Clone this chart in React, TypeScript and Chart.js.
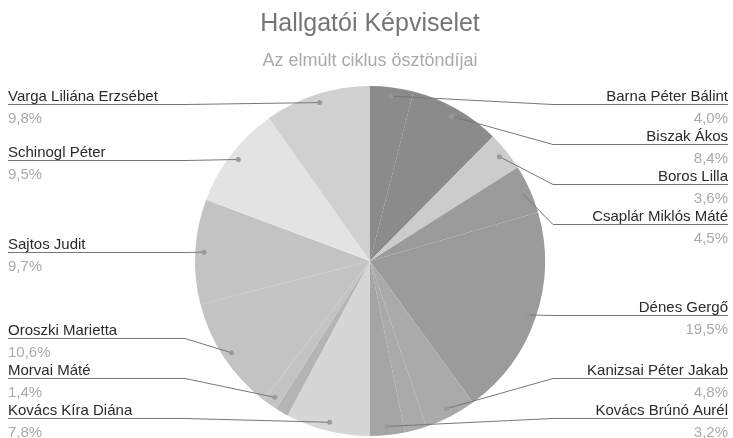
import React, { useEffect, useRef } from 'react';
import { Chart, registerables } from 'chart.js';

Chart.register(...registerables);

const TITLE = 'Hallgatói Képviselet';
const SUBTITLE = 'Az elmúlt ciklus ösztöndíjai';

// Slices in clockwise order from 12 o'clock; empty names are slices without a visible label
const names = [
  'Barna Péter Bálint',
  'Biszak Ákos',
  'Boros Lilla',
  'Csaplár Miklós Máté',
  'Dénes Gergő',
  'Kanizsai Péter Jakab',
  '',
  'Kovács Brúnó Aurél',
  'Kovács Kíra Diána',
  '',
  'Morvai Máté',
  'Oroszki Marietta',
  'Sajtos Judit',
  'Schinogl Péter',
  'Varga Liliána Erzsébet',
];
const values = [4.0, 8.4, 3.6, 4.5, 19.5, 4.8, 2.0, 3.2, 7.8, 1.2, 1.4, 10.6, 9.7, 9.5, 9.8];
const colors = [
  '#8b8b8b', '#8b8b8b', '#cccccc', '#9b9b9b', '#9b9b9b', '#aaaaaa', '#aaaaaa', '#a5a5a5',
  '#d6d6d6', '#b4b4b4', '#c3c3c3', '#c3c3c3', '#c3c3c3', '#e3e3e3', '#d0d0d0',
];

const FONT = "'Liberation Sans', Arial, sans-serif";

const outLabels = {
  id: 'outLabels',
  afterDatasetsDraw(chart: any) {
    const ctx = chart.ctx;
    const meta = chart.getDatasetMeta(0);
    const data = chart.data.datasets[0].data as number[];
    const total = data.reduce((a, b) => a + b, 0);
    const area = chart.chartArea;
    const minY = area.top + 18;
    const maxY = area.bottom - 18;
    const gap = 40;
    const items: any[] = [];
    meta.data.forEach((arc: any, i: number) => {
      const label = chart.data.labels[i] as string;
      if (!label) return;
      const p = arc.getProps(['x', 'y', 'startAngle', 'endAngle', 'outerRadius'], true);
      const mid = (p.startAngle + p.endAngle) / 2;
      const px = p.x + Math.cos(mid) * p.outerRadius * 0.95;
      const py = p.y + Math.sin(mid) * p.outerRadius * 0.95;
      const pct = ((data[i] / total) * 100).toFixed(1).replace('.', ',') + '%';
      items.push({ label, pct, px, py, right: Math.cos(mid) >= 0, cx: p.x, r: p.outerRadius });
    });
    [true, false].forEach((side) => {
      const list = items.filter((it) => it.right === side).sort((a, b) => a.py - b.py);
      list.forEach((it, k) => {
        let y = Math.min(Math.max(it.py, minY), maxY);
        if (k > 0) y = Math.max(y, list[k - 1].ly + gap);
        it.ly = y;
      });
      for (let k = list.length - 1; k >= 0; k--) {
        let y = list[k].ly;
        if (k === list.length - 1) y = Math.min(y, maxY);
        else y = Math.min(y, list[k + 1].ly - gap);
        list[k].ly = y;
      }
    });
    ctx.save();
    items.forEach((it) => {
      const ly = Math.round(it.ly) + 0.5;
      const elbowX = it.right ? it.cx + it.r + 8 : it.cx - it.r - 10;
      const edgeX = it.right ? chart.width - 5 : 8;
      ctx.strokeStyle = '#777777';
      ctx.lineWidth = 1;
      ctx.beginPath();
      ctx.moveTo(it.px, it.py);
      ctx.lineTo(elbowX, ly);
      ctx.lineTo(edgeX, ly);
      ctx.stroke();
      ctx.fillStyle = '#999999';
      ctx.beginPath();
      ctx.arc(it.px, it.py, 2.5, 0, Math.PI * 2);
      ctx.fill();
      ctx.textAlign = it.right ? 'right' : 'left';
      ctx.textBaseline = 'alphabetic';
      ctx.font = `15px ${FONT}`;
      ctx.fillStyle = '#2a2a2a';
      ctx.fillText(it.label, edgeX, ly - 4);
      ctx.fillStyle = '#aaaaaa';
      ctx.fillText(it.pct, edgeX, ly + 18);
    });
    ctx.restore();
  },
};

export default function App() {
  const ref = useRef<HTMLCanvasElement | null>(null);
  useEffect(() => {
    if (!ref.current) return;
    Chart.defaults.font.family = FONT;
    const chart = new Chart(ref.current, {
      type: 'pie',
      data: {
        labels: names,
        datasets: [
          {
            data: values,
            backgroundColor: colors,
            borderWidth: 0,
          },
        ],
      },
      options: {
        responsive: false,
        animation: false,
        layout: { padding: { top: 0, left: 195, right: 188, bottom: 2 } },
        plugins: {
          legend: { display: false },
          tooltip: { enabled: false },
          title: {
            display: true,
            text: TITLE,
            color: '#757575',
            font: { size: 25, weight: 'normal', family: FONT, lineHeight: 1.2 },
            padding: { top: 9.5, bottom: 8 },
          },
          subtitle: {
            display: true,
            text: SUBTITLE,
            color: '#aaaaaa',
            font: { size: 18, weight: 'normal', family: FONT, lineHeight: 1.2 },
            padding: { top: 2.7, bottom: 14.2 },
          },
        },
      },
      plugins: [outLabels],
    });
    return () => chart.destroy();
  }, []);
  return (
    <div style={{ position: 'fixed', left: 0, top: 0, width: 733, height: 438, background: '#ffffff' }}>
      <canvas ref={ref} width={733} height={438} style={{ width: 733, height: 438, display: 'block' }} />
    </div>
  );
}
